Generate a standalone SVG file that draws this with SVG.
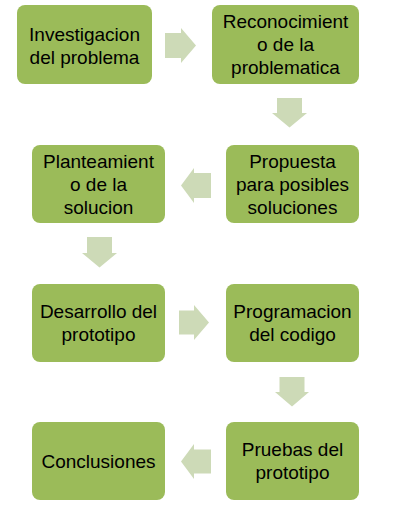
<svg xmlns="http://www.w3.org/2000/svg" width="401" height="513" viewBox="0 0 401 513">
<style>
.box{fill:#9BBB59;}
.arr{fill:#CDDAB7;}
text{font-family:"Liberation Sans",Arial,sans-serif;font-size:19px;fill:#000;text-anchor:middle;}
</style>
<rect width="401" height="513" fill="#fff"/>
<g id="connectors">
<path class="arr" d="M165,33 H181 V28 L196,45.5 L181,63 V58 H165 Z"/>
<path class="arr" d="M277,98 H302 V113 H307 L289.5,127.5 L272,113 H277 Z"/>
<path class="arr" d="M211,173 H194 V168 L181,185.5 L194,203 V198 H211 Z"/>
<path class="arr" d="M87,237 H112 V253 H117 L99.5,267.5 L82,253 H87 Z"/>
<path class="arr" d="M179,310.5 H194 V305 L209,322.5 L194,340 V334.5 H179 Z"/>
<path class="arr" d="M279.5,377 H304.5 V392 H309 L292,406.5 L275,392 H279.5 Z"/>
<path class="arr" d="M211,449.5 H194 V444 L181,461.5 L194,479 V473.5 H211 Z"/>
</g>
<g id="n1"><rect class="box" x="17" y="5" width="135" height="79" rx="8"/>
<text x="84.5" y="40.5">Investigacion</text><text x="84.5" y="63.5">del problema</text></g>
<g id="n2"><rect class="box" x="212" y="5" width="147" height="79" rx="8"/>
<text x="285.5" y="28">Reconocimient</text><text x="285.5" y="51">o de la</text><text x="285.5" y="74">problematica</text></g>
<g id="n3"><rect class="box" x="226" y="145" width="133" height="78" rx="8"/>
<text x="292.5" y="167.5">Propuesta</text><text x="292.5" y="190.5">para posibles</text><text x="292.5" y="213.5">soluciones</text></g>
<g id="n4"><rect class="box" x="32" y="145" width="133" height="78" rx="8"/>
<text x="98.5" y="167.5">Planteamient</text><text x="98.5" y="190.5">o de la</text><text x="98.5" y="213.5">solucion</text></g>
<g id="n5"><rect class="box" x="32" y="284" width="133" height="78" rx="8"/>
<text x="98.5" y="317.5">Desarrollo del</text><text x="98.5" y="340.5">prototipo</text></g>
<g id="n6"><rect class="box" x="226" y="284" width="133" height="78" rx="8"/>
<text x="292.5" y="317.5">Programacion</text><text x="292.5" y="340.5">del codigo</text></g>
<g id="n7"><rect class="box" x="226" y="422" width="133" height="78" rx="8"/>
<text x="292.5" y="455.5">Pruebas del</text><text x="292.5" y="478.5">prototipo</text></g>
<g id="n8"><rect class="box" x="32" y="422" width="133" height="78" rx="8"/>
<text x="98.5" y="467.5">Conclusiones</text></g>
</svg>
